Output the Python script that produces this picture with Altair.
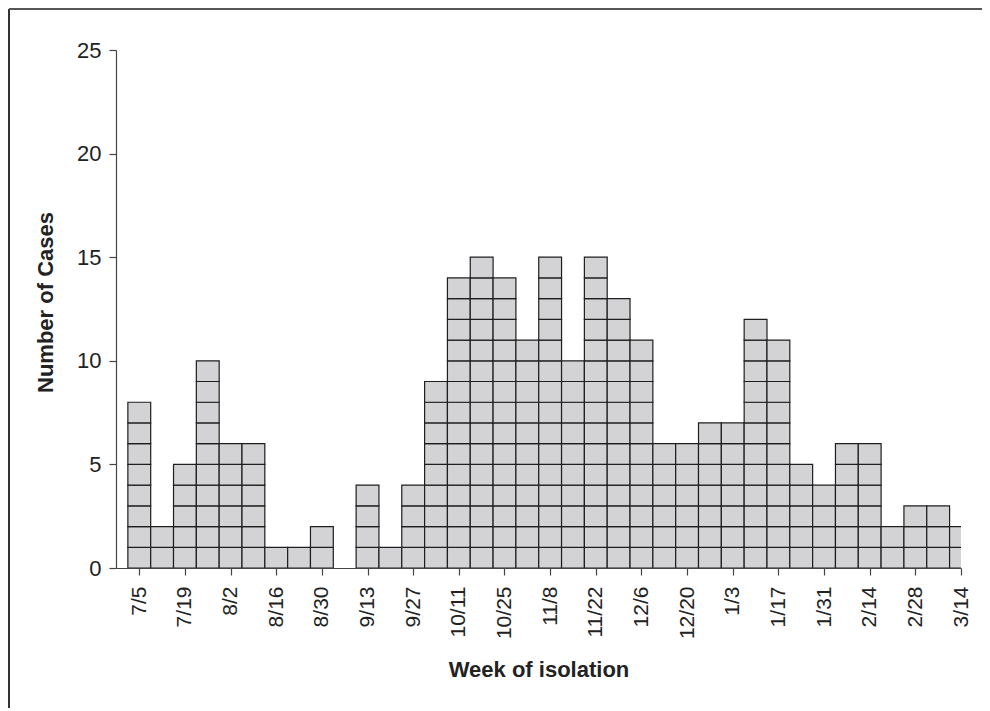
import altair as alt
import pandas as pd

weeks = ["7/5", "7/12", "7/19", "7/26", "8/2", "8/9", "8/16", "8/23", "8/30", "9/6",
         "9/13", "9/20", "9/27", "10/4", "10/11", "10/18", "10/25", "11/1", "11/8", "11/15",
         "11/22", "11/29", "12/6", "12/13", "12/20", "12/27", "1/3", "1/10", "1/17", "1/24",
         "1/31", "2/7", "2/14", "2/21", "2/28", "3/7", "3/14"]
cases = [8, 2, 5, 10, 6, 6, 1, 1, 2, 0,
         4, 1, 4, 9, 14, 15, 14, 11, 15, 10,
         15, 13, 11, 6, 6, 7, 7, 12, 11, 5,
         4, 6, 6, 2, 3, 3, 2]
y_ticks = [0, 5, 10, 15, 20, 25]

rows = []
for i, (w, c) in enumerate(zip(weeks, cases)):
    for k in range(c):
        rows.append({"week": w, "x": i - 0.5, "x2": i + 0.5, "y": k, "y2": k + 1})
df = pd.DataFrame(rows)

tick_vals = list(range(0, len(weeks), 2))
label_arr = "[" + ",".join("'" + w + "'" for w in weeks) + "]"

FONT = "Liberation Sans"

xscale = alt.Scale(domain=[-1.02, len(weeks) - 1], nice=False, zero=False)
yscale = alt.Scale(domain=[0, 25], nice=False)

bars = alt.Chart(df).mark_rect(
    fill="#d3d3d5", stroke="#1e1e1e", strokeWidth=1.2, clip=True
).encode(
    x=alt.X("x:Q", scale=xscale,
            axis=alt.Axis(values=tick_vals, labelExpr=label_arr + "[datum.value]",
                          title="Week of isolation", labelAngle=-90, labelAlign="right",
                          labelBaseline="middle", labelPadding=11, tickSize=7,
                          labelFontSize=21, grid=False, titlePadding=21)),
    x2="x2:Q",
    y=alt.Y("y:Q", scale=yscale,
            axis=alt.Axis(values=y_ticks, title="Number of Cases", tickSize=7,
                          labelFontSize=22, grid=False, labelPadding=8, titlePadding=19,
                          titleY=252)),
    y2="y2:Q",
)

frame_df = pd.DataFrame({"a": [0]})
left_line = alt.Chart(frame_df).mark_rule(color="#333333", strokeWidth=2, clip=False).encode(
    x=alt.value(-107), y=alt.value(-41), y2=alt.value(700))
top_line = alt.Chart(frame_df).mark_rule(color="#555555", strokeWidth=2, clip=False).encode(
    x=alt.value(-107), x2=alt.value(900), y=alt.value(-41))

chart = alt.layer(bars, left_line, top_line).properties(
    width=845, height=518,
    autosize=alt.AutoSizeParams(type="none"),
    padding={"left": 108, "top": 42, "right": 21, "bottom": 140},
).configure_view(stroke=None).configure_axis(
    labelFont=FONT, titleFont=FONT, titleFontSize=22,
    labelColor="#222222", titleColor="#222222", titleFontWeight="bold",
    domainColor="#444444", tickColor="#444444", domainWidth=1.2, tickWidth=1.2,
)

chart.save("out.html", embed_options={"renderer": "svg", "actions": False})
